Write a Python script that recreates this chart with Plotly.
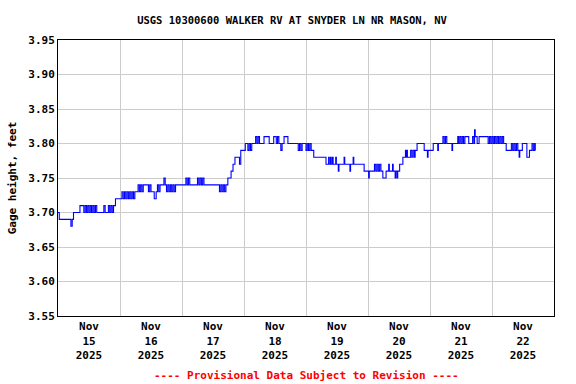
import pandas as pd
import plotly.graph_objects as go

# Gage height readings: hours after 2025-11-15 00:00 (PST) and value in feet
hours = [0.0, 0.5, 5.0, 5.5, 6.0, 8.5, 10.0, 10.5, 11.0, 11.5, 12.0, 12.5, 13.0, 13.5, 14.0, 14.5, 15.0,
         17.75, 18.25, 19.5, 20.0, 20.5, 21.0, 21.5, 22.25, 24.75, 25.25, 25.75, 26.25, 26.75, 27.25, 27.75,
         28.25, 28.75, 29.25, 29.75, 31.0, 31.5, 32.0, 32.5, 33.0, 35.0, 35.5, 36.0, 37.25, 38.0, 38.5, 39.0,
         39.5, 41.0, 41.5, 42.0, 42.5, 43.0, 43.5, 44.0, 44.5, 45.0, 45.5, 49.5, 50.0, 50.5, 51.0, 54.0, 54.5,
         55.0, 55.5, 56.0, 56.5, 62.5, 63.0, 63.5, 64.0, 64.5, 65.0, 65.75, 67.0, 67.75, 68.5, 70.25, 70.75,
         72.5, 73.5, 74.0, 74.5, 75.0, 76.5, 77.0, 77.5, 78.0, 79.75, 81.75, 83.5, 84.5, 85.0, 85.5, 86.25,
         86.75, 87.5, 89.0, 93.0, 93.5, 94.0, 94.5, 96.0, 96.5, 97.0, 97.5, 98.0, 99.0, 103.75, 104.75, 105.0,
         105.5, 105.75, 106.25, 106.5, 107.5, 107.75, 108.5, 108.75, 110.75, 111.0, 113.0, 113.25, 114.25,
         114.5, 118.5, 120.25, 120.5, 122.5, 123.0, 123.5, 124.0, 124.5, 125.0, 125.75, 127.0, 128.0, 128.25,
         129.5, 129.75, 130.5, 130.75, 131.25, 131.5, 132.25, 133.5, 134.5, 134.75, 135.0, 135.25, 136.5,
         137.0, 137.5, 138.0, 138.25, 139.0, 141.75, 143.0, 143.25, 145.25, 147.0, 147.25, 149.0, 149.5,
         150.0, 150.5, 152.5, 152.75, 154.75, 155.0, 155.5, 156.0, 156.5, 157.0, 157.5, 159.0, 160.5, 161.0,
         161.25, 161.5, 162.25, 163.0, 166.5, 167.0, 167.5, 168.0, 168.5, 169.0, 169.5, 170.0, 170.5, 171.0,
         171.5, 172.0, 172.5, 173.5, 175.5, 176.0, 176.5, 177.0, 177.5, 178.0, 178.5, 178.75, 179.75, 181.5,
         182.5, 183.5, 184.0, 184.5, 184.75]
gage_ft = [3.70, 3.69, 3.68, 3.69, 3.70, 3.71, 3.70, 3.71, 3.70, 3.71, 3.70, 3.71, 3.70, 3.71, 3.70, 3.71, 3.70,
           3.71, 3.70, 3.71, 3.70, 3.71, 3.70, 3.71, 3.72, 3.73, 3.72, 3.73, 3.72, 3.73, 3.72, 3.73,
           3.72, 3.73, 3.72, 3.73, 3.74, 3.73, 3.74, 3.73, 3.74, 3.73, 3.74, 3.73, 3.72, 3.73, 3.74, 3.73,
           3.74, 3.75, 3.74, 3.73, 3.74, 3.73, 3.74, 3.73, 3.74, 3.73, 3.74, 3.75, 3.74, 3.75, 3.74, 3.75, 3.74,
           3.75, 3.74, 3.75, 3.74, 3.73, 3.74, 3.73, 3.74, 3.73, 3.74, 3.75, 3.76, 3.77, 3.78, 3.77, 3.79,
           3.80, 3.79, 3.80, 3.79, 3.80, 3.81, 3.80, 3.81, 3.80, 3.81, 3.80, 3.81, 3.80, 3.81, 3.80, 3.79,
           3.80, 3.81, 3.80, 3.79, 3.80, 3.79, 3.80, 3.79, 3.80, 3.79, 3.80, 3.79, 3.78, 3.77, 3.78, 3.77,
           3.78, 3.77, 3.78, 3.77, 3.78, 3.77, 3.76, 3.77, 3.78, 3.77, 3.76, 3.77, 3.78,
           3.77, 3.76, 3.75, 3.76, 3.77, 3.76, 3.77, 3.76, 3.77, 3.76, 3.75, 3.76, 3.77, 3.76,
           3.77, 3.76, 3.75, 3.76, 3.75, 3.76, 3.77, 3.78, 3.79, 3.78, 3.79, 3.78, 3.79,
           3.78, 3.79, 3.78, 3.79, 3.80, 3.79, 3.78, 3.79, 3.80, 3.79, 3.80, 3.81, 3.80,
           3.81, 3.80, 3.79, 3.80, 3.81, 3.80, 3.81, 3.80, 3.81, 3.80, 3.81, 3.80, 3.81, 3.80,
           3.82, 3.81, 3.80, 3.81, 3.80, 3.81, 3.80, 3.81, 3.80, 3.81, 3.80, 3.81, 3.80, 3.81,
           3.80, 3.81, 3.80, 3.79, 3.80, 3.79, 3.80, 3.79, 3.80, 3.79, 3.78, 3.79, 3.80, 3.78,
           3.79, 3.80, 3.79, 3.80, 3.79]

start = pd.Timestamp("2025-11-15 00:00")
times = start + pd.to_timedelta(hours, unit="h")

title_text = "USGS 10300600 WALKER RV AT SNYDER LN NR MASON, NV"
y_title = "Gage height, feet"
footer = "---- Provisional Data Subject to Revision ----"

FONT = "DejaVu Sans Mono"
BOLD = dict(family=FONT, size=11, color="black", weight="bold")

fig = go.Figure()
fig.add_trace(go.Scatter(x=times, y=gage_ft, mode="lines",
                         line=dict(color="#0000ff", width=1.1, shape="hv"),
                         hoverinfo="x+y", showlegend=False))

fig.update_layout(
    width=576, height=384,
    margin=dict(l=58, r=22, t=40, b=68),
    paper_bgcolor="white", plot_bgcolor="white",
    font=BOLD,
    title=dict(text=title_text, x=0.507, xref="container", xanchor="center",
               y=1 - 20 / 384, yref="container", yanchor="middle",
               font=dict(family=FONT, size=10.5, color="black", weight="bold")),
    xaxis=dict(range=["2025-11-15 00:00", "2025-11-23 00:00"],
               tickmode="linear", tick0="2025-11-15", dtick=86400000,
               ticklabelmode="period", tickformat="%b<br>%d<br>%Y",
               showgrid=True, gridcolor="#cccccc", gridwidth=1,
               showline=True, linecolor="black", linewidth=1, mirror=True,
               ticks="", zeroline=False, tickfont=BOLD),
    yaxis=dict(range=[3.55, 3.95], tickmode="linear", tick0=3.55, dtick=0.05,
               tickformat=".2f", showgrid=True, gridcolor="#cccccc", gridwidth=1,
               showline=True, linecolor="black", linewidth=1, mirror=True,
               ticks="", zeroline=False, tickfont=BOLD,
               title=dict(text=y_title, font=BOLD, standoff=9)),
    annotations=[dict(text=footer, xref="paper", yref="paper",
                      x=0.5, y=(316 - 375) / 276, xanchor="center", yanchor="middle",
                      showarrow=False, font=dict(family=FONT, size=11, color="red", weight="bold"))],
)

fig.write_html("out.html", config={"displayModeBar": False},
               post_script="document.body.style.margin='0';document.body.style.overflow='hidden';")
